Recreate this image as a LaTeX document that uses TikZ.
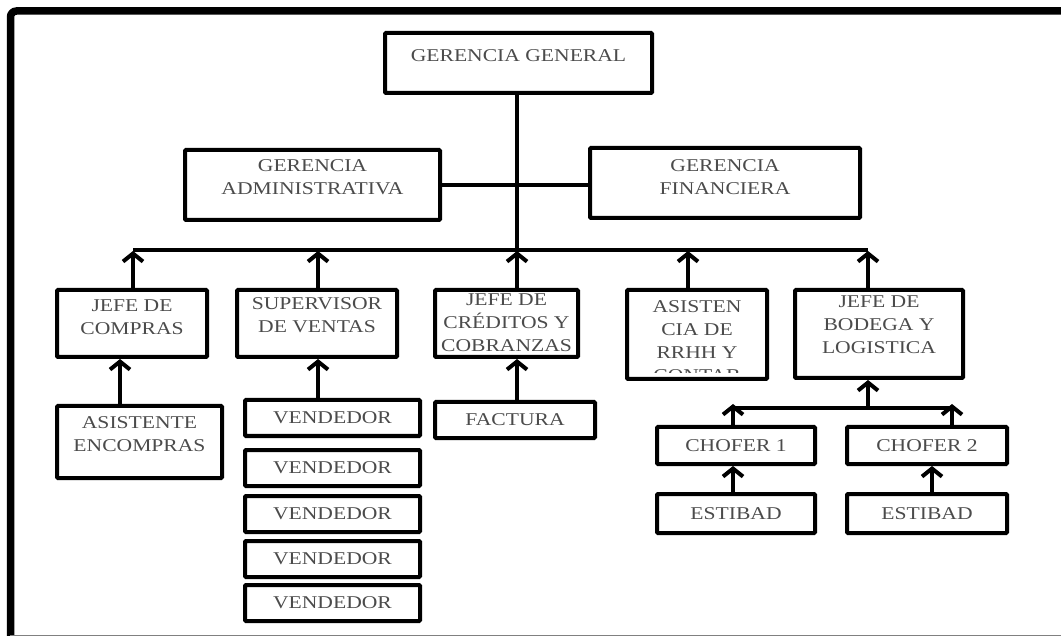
\documentclass[tikz,border=0pt]{standalone}
\usepackage{fontspec}
\setmainfont{Liberation Serif}[FakeStretch=1.2]
\usetikzlibrary{arrows.meta,fit}
\definecolor{inkgray}{RGB}{75,75,75}
\tikzset{
  box/.style={draw=black, line width=4pt, inner sep=0pt, rounded corners=1pt},
  lbl/.style={text=inkgray, align=center, inner sep=0pt,
              font=\fontsize{18}{23}\selectfont},
  wire/.style={line width=4pt},
  arr/.style={line width=4pt, -{Straight Barb[length=8pt,width=20pt]}},
}
\begin{document}
\begin{tikzpicture}[x=1pt,y=-1pt]
\useasboundingbox (0,0) rectangle (1061,636);

% outer frame: heavy top and left rules, thin bottom rule
\draw[line width=7.5pt, rounded corners=6pt] (10.5,636) -- (10.5,11) -- (1061,11);
\draw[gray, line width=1pt] (10,635) -- (1061,635);

% top level
\node[box, fit={(385,33) (652,93)}] (gg) {};
\node[lbl, anchor=north] at ([yshift=-18pt]gg.north) {GERENCIA GENERAL};

% management level
\node[box, fit={(185,150) (440,220)}] (ga) {};
\node[lbl, anchor=north] at ([yshift=-11pt]ga.north) {GERENCIA\\ADMINISTRATIVA};
\node[box, fit={(590,148) (860,218)}] (gf) {};
\node[lbl, anchor=north] at ([yshift=-13pt]gf.north) {GERENCIA\\FINANCIERA};

% department heads
\node[box, fit={(57,290) (207,357)}] (compras) {};
\node[lbl, anchor=north] at ([yshift=-12pt]compras.north) {JEFE DE\\COMPRAS};
\node[box, fit={(237,290) (397,357)}] (ventas) {};
\node[lbl, anchor=north] at ([yshift=-9pt]ventas.north) {SUPERVISOR\\DE VENTAS};
\node[box, fit={(435,290) (578,357)}] (creditos) {};
\node[lbl, anchor=north] at ([yshift=-6pt]creditos.north) {JEFE DE\\CRÉDITOS Y\\COBRANZAS};
\node[box, fit={(627,290) (767,379)}] (rrhh) {};
\begin{scope}
  \clip (627,290) rectangle (767,373);
  \node[lbl, anchor=north] at ([yshift=-12pt]rrhh.north) {ASISTEN\\CIA DE\\RRHH Y\\CONTAB};
\end{scope}
\node[box, fit={(795,290) (963,378)}] (bodega) {};
\node[lbl, anchor=north] at ([yshift=-8pt]bodega.north) {JEFE DE\\BODEGA Y\\LOGISTICA};

% staff
\node[box, fit={(57,406) (222,478)}] (asist) {};
\node[lbl, anchor=north] at ([yshift=-12pt]asist.north) {ASISTENTE\\ENCOMPRAS};

\foreach \i/\ya/\yb in {1/400/436, 2/450/486, 3/496/532, 4/541/577, 5/585/621}{
  \node[box, fit={(245,\ya) (420,\yb)}] (vend\i) {};
  \node[lbl] at (vend\i.center) {VENDEDOR};
}

\node[box, fit={(435,402) (595,438)}] (factura) {};
\node[lbl] at (factura.center) {FACTURA};

\node[box, fit={(657,427) (815,464)}] (chofer1) {};
\node[lbl] at (chofer1.center) {CHOFER 1};
\node[box, fit={(847,427) (1007,464)}] (chofer2) {};
\node[lbl] at (chofer2.center) {CHOFER 2};
\node[box, fit={(657,494) (815,533)}] (estibad1) {};
\node[lbl] at (estibad1.center) {ESTIBAD};
\node[box, fit={(847,494) (1007,533)}] (estibad2) {};
\node[lbl] at (estibad2.center) {ESTIBAD};

% connection points on the buses
\coordinate (bmain) at (517,250);
\coordinate (b1) at (133,250);
\coordinate (b2) at (318,250);
\coordinate (b3) at (517,250);
\coordinate (b4) at (688,250);
\coordinate (b5) at (868,250);
\coordinate (bl) at (868,408);
\coordinate (c1) at (733,408);
\coordinate (c2) at (952,408);

% main trunk and buses
\draw[wire] (gg.south -| bmain) -- (bmain);
\draw[wire] (ga.east |- 0,185) -- (gf.west |- 0,185);
\draw[wire] (b1) -- (b5);
\draw[wire] (c1) -- (c2);

% reporting lines
\draw[arr] (compras.north -| b1) -- ([yshift=-1pt]b1);
\draw[arr] (ventas.north -| b2) -- ([yshift=-1pt]b2);
\draw[arr] (creditos.north -| b3) -- ([yshift=-1pt]b3);
\draw[arr] (rrhh.north -| b4) -- ([yshift=-1pt]b4);
\draw[arr] (bodega.north -| b5) -- ([yshift=-1pt]b5);

\draw[arr] (asist.north -| 120,0) -- (compras.south -| 120,0);
\draw[arr] (vend1.north -| b2) -- (ventas.south -| b2);
\draw[arr] (factura.north -| b3) -- (creditos.south -| b3);
\draw[arr] (bl) -- (bodega.south -| bl);

\draw[arr] (chofer1.north -| c1) -- ([yshift=4pt]c1);
\draw[arr] (chofer2.north -| c2) -- ([yshift=4pt]c2);
\draw[arr] (estibad1.north -| c1) -- (chofer1.south -| c1);
\draw[arr] (estibad2.north -| 932,0) -- (chofer2.south -| 932,0);
\end{tikzpicture}
\end{document}
